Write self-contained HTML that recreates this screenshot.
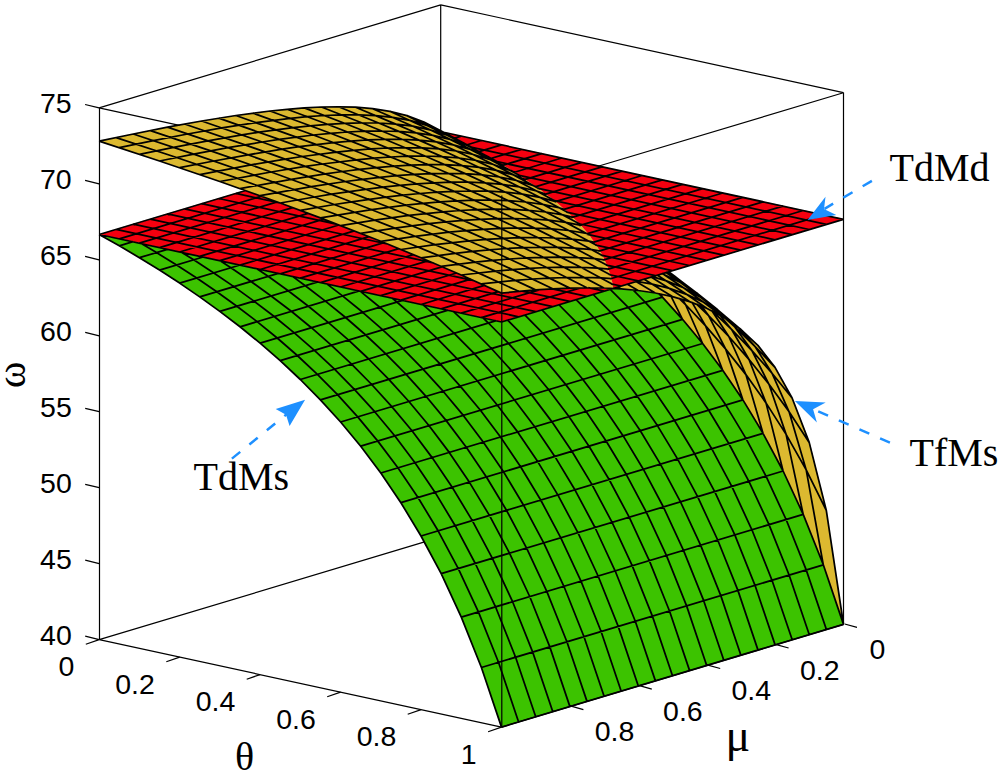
<!DOCTYPE html>
<html><head><meta charset="utf-8"><style>
html,body{margin:0;padding:0;background:#fff;}
svg{display:block;}
.t{font-family:"Liberation Sans",sans-serif;font-size:28.5px;fill:#000;}
.s{font-family:"Liberation Serif",serif;fill:#000;}
</style></head><body>
<svg width="1002" height="776" viewBox="0 0 1002 776">
<rect width="1002" height="776" fill="#fff"/>
<path d="M99.5,234.5 103.8,235.2 105.5,235.8 106.8,235.8 107.2,236.2 111.5,236.8 116.2,238.2 119.2,238.5 119.5,238.8 125.2,239.8 126.8,240.5 129.8,240.8 134.5,242.2 137.5,242.5 142.2,243.8 145.2,244.2 149.8,245.5 152.8,245.8 157.5,247.2 160.5,247.5 165.2,248.8 168.2,249.2 172.8,250.5 175.8,250.8 180.5,252.2 183.5,252.5 188.2,253.8 191.2,254.2 195.8,255.5 198.8,255.8 203.5,257.2 206.5,257.5 211.2,258.8 214.2,259.2 218.8,260.5 221.8,260.8 226.5,262.2 229.5,262.5 234.2,263.8 237.2,264.2 241.8,265.5 244.8,265.8 249.5,267.2 252.5,267.5 257.2,268.8 260.2,269.2 264.8,270.5 267.8,270.8 272.5,272.2 275.5,272.5 280.2,273.8 283.2,274.2 287.8,275.5 290.8,275.8 295.5,277.2 298.5,277.5 303.2,278.8 306.2,279.2 310.8,280.5 313.8,280.8 315.5,281.5 316.8,281.5 317.2,281.8 321.5,282.5 326.2,283.8 329.2,284.2 329.5,284.5 335.2,285.5 336.8,286.2 339.8,286.5 344.5,287.8 347.5,288.2 352.2,289.5 355.2,289.8 359.8,291.2 362.8,291.5 367.5,292.8 370.5,293.2 375.2,294.5 378.2,294.8 382.8,296.2 385.8,296.5 390.5,297.8 393.5,298.2 398.2,299.5 401.2,299.8 405.8,301.2 408.8,301.5 413.5,302.8 416.5,303.2 421.2,304.5 424.2,304.8 428.8,306.2 431.8,306.5 436.5,307.8 439.5,308.2 444.2,309.5 447.2,309.8 451.8,311.2 454.8,311.5 459.5,312.8 462.5,313.2 467.2,314.5 470.2,314.8 474.8,316.2 477.8,316.5 479.5,317.2 480.8,317.2 482.5,317.8 485.5,318.2 487.2,318.8 488.5,318.8 490.2,319.5 491.5,319.5 491.8,319.8 493.2,319.8 494.8,320.5 496.2,320.5 497.8,321.2 501.8,321.8 504.2,320.8 505.2,320.8 507.5,319.8 508.5,319.8 510.8,318.8 511.8,318.8 514.2,317.8 515.2,317.8 517.5,316.8 518.5,316.8 520.8,315.8 521.8,315.8 524.2,314.8 525.2,314.8 527.5,313.8 528.5,313.8 530.8,312.8 531.8,312.8 534.2,311.8 535.2,311.8 537.5,310.8 538.5,310.8 540.8,309.8 541.8,309.8 544.2,308.8 545.2,308.8 547.5,307.8 548.5,307.8 550.8,306.8 555.2,305.8 558.5,304.5 559.5,304.5 561.8,303.5 562.8,303.5 565.2,302.5 566.2,302.5 568.5,301.5 569.5,301.5 571.8,300.5 572.8,300.5 575.2,299.5 576.2,299.5 578.5,298.5 579.5,298.5 581.8,297.5 582.8,297.5 585.2,296.5 586.2,296.5 588.5,295.5 589.5,295.5 591.8,294.5 592.8,294.5 595.2,293.5 596.2,293.5 598.5,292.5 599.5,292.5 601.8,291.5 602.8,291.5 605.2,290.5 606.2,290.5 608.5,289.5 609.5,289.5 611.8,288.5 612.8,288.5 615.2,287.5 616.2,287.5 618.5,286.5 619.5,286.5 621.8,285.5 622.8,285.5 625.2,284.5 626.2,284.5 628.5,283.5 629.5,283.5 631.8,282.5 632.8,282.5 635.2,281.5 639.5,280.5 642.8,279.2 643.8,279.2 646.2,278.2 647.2,278.2 649.5,277.2 650.5,277.2 652.8,276.2 653.8,276.2 656.2,275.2 657.2,275.2 659.5,274.2 660.5,274.2 662.8,273.2 663.8,273.2 666.2,272.2 667.2,272.2 669.5,271.2 670.5,271.2 672.8,270.2 673.8,270.2 676.2,269.2 677.2,269.2 679.5,268.2 680.5,268.2 682.8,267.2 683.8,267.2 686.2,266.2 687.2,266.2 689.5,265.2 690.5,265.2 692.8,264.2 693.8,264.2 696.2,263.2 697.2,263.2 699.5,262.2 700.5,262.2 702.8,261.2 703.8,261.2 706.2,260.2 707.2,260.2 709.5,259.2 710.5,259.2 712.8,258.2 713.8,258.2 716.2,257.2 717.2,257.2 719.5,256.2 720.5,256.2 722.8,255.2 727.2,254.2 730.5,252.8 731.5,252.8 733.8,251.8 734.8,251.8 737.2,250.8 738.2,250.8 740.5,249.8 741.5,249.8 743.8,248.8 744.8,248.8 747.2,247.8 748.2,247.8 750.5,246.8 751.5,246.8 753.8,245.8 754.8,245.8 757.2,244.8 758.2,244.8 760.5,243.8 761.5,243.8 763.8,242.8 764.8,242.8 767.2,241.8 768.2,241.8 770.5,240.8 771.5,240.8 773.8,239.8 774.8,239.8 777.2,238.8 778.2,238.8 780.5,237.8 781.5,237.8 783.8,236.8 784.8,236.8 787.2,235.8 788.2,235.8 790.5,234.8 791.5,234.8 793.8,233.8 794.8,233.8 797.2,232.8 798.2,232.8 800.5,231.8 801.5,231.8 803.8,230.8 804.8,230.8 807.2,229.8 808.2,229.8 810.5,228.8 811.5,228.8 813.8,227.8 814.8,227.8 818.2,226.5 819.2,226.5 821.5,225.5 822.5,225.5 824.8,224.5 825.8,224.5 828.2,223.5 829.2,223.5 831.5,222.5 832.5,222.5 834.8,221.5 835.8,221.5 842.8,219.2 841.5,219.2 836.8,217.8 833.8,217.5 829.2,216.2 826.2,215.8 821.5,214.5 818.5,214.2 813.8,212.8 810.8,212.5 806.2,211.2 803.2,210.8 798.5,209.5 795.5,209.2 790.8,207.8 787.8,207.5 783.2,206.2 780.2,205.8 775.5,204.5 772.5,204.2 767.8,202.8 764.8,202.5 763.2,201.8 761.8,201.8 761.5,201.5 757.2,200.8 752.5,199.5 749.5,199.2 744.8,197.8 741.8,197.5 737.2,196.2 734.2,195.8 729.5,194.5 726.5,194.2 726.2,193.8 720.5,192.8 718.8,192.2 715.8,191.8 711.2,190.5 708.2,190.2 703.5,188.8 700.5,188.5 695.8,187.2 692.8,186.8 688.2,185.5 685.2,185.2 680.5,183.8 677.5,183.5 672.8,182.2 669.8,181.8 665.2,180.5 662.2,180.2 657.5,178.8 654.5,178.5 649.8,177.2 646.8,176.8 642.2,175.5 639.2,175.2 634.5,173.8 631.5,173.5 626.8,172.2 623.8,171.8 619.2,170.5 616.2,170.2 611.5,168.8 608.5,168.5 603.8,167.2 600.8,166.8 596.2,165.5 593.2,165.2 588.5,163.8 585.5,163.5 580.8,162.2 577.8,161.8 573.2,160.5 570.2,160.2 565.5,158.8 562.5,158.5 557.8,157.2 554.8,156.8 550.2,155.5 547.2,155.2 542.5,153.8 539.5,153.5 534.8,152.2 531.8,151.8 527.2,150.5 524.2,150.2 522.5,149.5 516.5,148.5 516.2,148.2 510.5,147.2 508.8,146.5 505.8,146.2 501.2,144.8 498.2,144.5 493.5,143.2 490.5,142.8 485.8,141.5 482.8,141.2 478.2,139.8 475.2,139.5 470.5,138.2 467.5,137.8 462.8,136.5 459.8,136.2 458.2,135.5 456.8,135.5 455.2,134.8 453.8,134.8 453.5,134.5 452.2,134.5 450.5,133.8 444.8,132.8 462.8,142.2 463.5,142.8 471.8,147.2 478.8,151.5 497.5,161.5 503.8,165.8 505.5,166.5 514.2,172.2 518.5,174.5 524.8,179.2 539.8,189.2 544.5,193.2 554.2,200.2 562.2,207.5 567.5,211.8 571.5,216.2 580.2,224.5 589.5,235.5 597.8,247.5 598.5,249.2 602.2,254.8 607.8,267.2 609.2,271.8 610.5,274.8 610.5,275.8 611.5,278.8 611.5,280.2 612.5,283.2 612.8,286.8 613.2,287.2 613.2,288.2 612.8,288.5 607.5,288.5 607.2,288.2 591.5,288.2 591.2,287.8 559.5,288.5 559.2,288.8 552.2,288.8 551.8,289.2 547.2,289.2 546.8,289.5 536.8,289.8 536.5,290.2 532.8,290.2 532.5,290.5 520.8,291.2 520.5,291.5 517.2,291.5 516.8,291.8 513.8,291.8 513.5,292.2 510.5,292.2 510.2,292.5 507.5,292.5 507.2,292.8 501.2,293.2 489.2,287.5 488.5,287.5 484.8,285.5 484.2,285.5 481.2,283.8 480.5,283.8 475.2,281.2 472.2,280.2 469.8,278.8 469.2,278.8 460.8,274.8 457.8,273.8 455.5,272.5 454.8,272.5 453.2,271.5 452.5,271.5 450.8,270.5 450.2,270.5 448.5,269.5 445.5,268.5 443.2,267.2 442.5,267.2 438.5,265.2 437.8,265.2 432.2,262.5 429.8,261.8 419.5,257.2 417.2,256.5 415.5,255.5 411.5,254.2 409.8,253.2 405.8,251.8 404.2,250.8 400.2,249.5 398.5,248.5 397.8,248.5 396.8,247.8 396.2,247.8 395.2,247.2 394.5,247.2 393.5,246.5 392.8,246.5 391.8,245.8 382.8,242.5 381.2,241.5 377.8,240.5 363.5,234.5 361.8,234.2 360.8,233.5 355.8,231.8 351.5,229.8 349.8,229.5 345.5,227.5 343.8,227.2 341.2,225.8 339.5,225.5 336.8,224.2 335.2,223.8 329.8,221.5 325.5,220.2 322.8,218.8 321.2,218.5 320.2,217.8 318.5,217.5 317.5,216.8 315.8,216.5 309.5,213.8 306.8,213.2 305.8,212.5 304.2,212.2 297.8,209.5 295.2,208.8 294.2,208.2 288.8,206.5 285.2,204.8 282.5,204.2 281.5,203.5 278.8,202.8 277.8,202.2 270.5,199.8 269.5,199.2 266.8,198.5 265.8,197.8 253.8,193.8 252.8,193.2 248.2,191.8 246.2,190.8 244.5,190.8 242.2,191.8 241.2,191.8 238.8,192.8 237.8,192.8 235.5,193.8 234.5,193.8 232.2,194.8 231.2,194.8 228.8,195.8 227.8,195.8 225.5,196.8 224.5,196.8 222.2,197.8 221.2,197.8 218.8,198.8 217.8,198.8 215.5,199.8 214.5,199.8 212.2,200.8 211.2,200.8 208.8,201.8 204.5,202.8 201.2,204.2 200.2,204.2 197.8,205.2 196.8,205.2 194.5,206.2 193.5,206.2 191.2,207.2 190.2,207.2 187.8,208.2 186.8,208.2 184.5,209.2 183.5,209.2 181.2,210.2 180.2,210.2 177.8,211.2 176.8,211.2 174.5,212.2 173.5,212.2 171.2,213.2 170.2,213.2 167.8,214.2 166.8,214.2 164.5,215.2 163.5,215.2 161.2,216.2 160.2,216.2 157.8,217.2 156.8,217.2 154.5,218.2 153.5,218.2 151.2,219.2 150.2,219.2 147.8,220.2 146.8,220.2 144.5,221.2 143.5,221.2 141.2,222.2 140.2,222.2 137.8,223.2 136.8,223.2 134.5,224.2 133.5,224.2 131.2,225.2 130.2,225.2 127.8,226.2 126.8,226.2 124.5,227.2 123.5,227.2 121.2,228.2 120.2,228.2 113.5,230.5 112.5,230.5 110.2,231.5 109.2,231.5 106.8,232.5 105.8,232.5 103.5,233.5 102.5,233.5Z" fill="#f5000f" stroke="#f5000f" stroke-width="0.6"/><path d="M99.8,234.8 112.2,241.5 125.5,249.5 127.2,250.2 132.8,253.8 134.5,254.5 145.5,261.2 147.2,262.5 149.8,263.8 151.5,265.2 154.2,266.5 155.8,267.8 158.5,269.2 173.5,279.2 174.5,279.5 199.2,296.2 206.2,301.5 212.2,305.5 242.5,328.5 244.2,330.2 260.5,343.2 270.8,352.5 273.5,354.5 298.2,377.2 322.8,402.2 339.5,420.5 361.2,446.5 373.2,462.8 380.5,472.2 401.5,503.2 422.2,537.5 424.2,541.8 424.8,542.5 426.8,546.8 427.5,547.5 429.5,551.8 430.2,552.5 432.2,556.8 432.8,557.5 434.8,561.8 435.5,562.5 437.8,567.5 438.5,568.2 440.5,572.5 441.2,573.2 441.8,575.2 443.8,578.8 443.8,579.5 448.2,588.2 448.2,588.8 452.5,597.5 452.5,598.2 459.2,611.8 459.2,612.5 461.5,616.8 461.5,617.5 462.2,618.5 462.2,619.2 469.5,636.8 469.8,638.5 470.5,639.5 470.5,640.2 471.2,641.2 471.2,641.8 471.8,642.8 471.8,643.5 472.5,644.5 472.5,645.2 473.2,646.2 473.2,646.8 473.8,647.8 473.8,648.5 474.5,649.5 474.5,650.2 481.8,667.8 501.5,726.8 503.5,726.5 505.8,725.5 506.8,725.5 509.2,724.5 510.2,724.5 512.5,723.5 513.5,723.5 515.8,722.5 516.8,722.5 519.2,721.5 520.2,721.5 523.5,720.2 524.5,720.2 526.8,719.2 527.8,719.2 530.2,718.2 531.2,718.2 543.5,714.2 544.5,714.2 546.8,713.2 547.8,713.2 550.2,712.2 551.2,712.2 553.5,711.2 554.5,711.2 556.8,710.2 557.8,710.2 560.2,709.2 561.2,709.2 563.5,708.2 564.5,708.2 566.8,707.2 567.8,707.2 570.2,706.2 571.2,706.2 573.5,705.2 574.5,705.2 576.8,704.2 577.8,704.2 580.2,703.2 581.2,703.2 583.5,702.2 584.5,702.2 586.8,701.2 587.8,701.2 590.2,700.2 591.2,700.2 593.5,699.2 594.5,699.2 596.8,698.2 597.8,698.2 600.2,697.2 601.2,697.2 603.5,696.2 604.5,696.2 606.8,695.2 607.8,695.2 611.2,693.8 612.2,693.8 614.5,692.8 615.5,692.8 617.8,691.8 618.8,691.8 621.2,690.8 622.2,690.8 624.5,689.8 625.5,689.8 627.8,688.8 628.8,688.8 631.2,687.8 632.2,687.8 634.5,686.8 635.5,686.8 637.8,685.8 638.8,685.8 641.2,684.8 642.2,684.8 644.5,683.8 645.5,683.8 647.8,682.8 648.8,682.8 651.2,681.8 652.2,681.8 664.5,677.8 665.5,677.8 667.8,676.8 668.8,676.8 671.2,675.8 672.2,675.8 674.5,674.8 675.5,674.8 677.8,673.8 678.8,673.8 681.2,672.8 682.2,672.8 684.5,671.8 685.5,671.8 687.8,670.8 688.8,670.8 691.2,669.8 692.2,669.8 695.5,668.5 696.5,668.5 698.8,667.5 699.8,667.5 702.2,666.5 703.2,666.5 705.5,665.5 706.5,665.5 708.8,664.5 709.8,664.5 712.2,663.5 713.2,663.5 715.5,662.5 716.5,662.5 718.8,661.5 719.8,661.5 722.2,660.5 723.2,660.5 725.5,659.5 726.5,659.5 728.8,658.5 729.8,658.5 732.2,657.5 733.2,657.5 735.5,656.5 736.5,656.5 738.8,655.5 739.8,655.5 742.2,654.5 743.2,654.5 745.5,653.5 746.5,653.5 758.8,649.5 759.8,649.5 762.2,648.5 763.2,648.5 765.5,647.5 766.5,647.5 768.8,646.5 769.8,646.5 772.2,645.5 773.2,645.5 775.5,644.5 776.5,644.5 778.8,643.5 779.8,643.5 783.2,642.2 784.2,642.2 786.5,641.2 787.5,641.2 789.8,640.2 790.8,640.2 793.2,639.2 794.2,639.2 796.5,638.2 797.5,638.2 799.8,637.2 800.8,637.2 803.2,636.2 804.2,636.2 806.5,635.2 807.5,635.2 809.8,634.2 810.8,634.2 813.2,633.2 814.2,633.2 816.5,632.2 817.5,632.2 819.8,631.2 820.8,631.2 823.2,630.2 824.2,630.2 826.5,629.2 827.5,629.2 829.8,628.2 830.8,628.2 843.2,624.2 823.2,564.5 821.8,561.8 821.5,560.2 820.8,559.2 820.8,558.5 820.2,557.5 820.2,556.8 819.5,555.8 819.5,555.2 818.8,554.2 818.8,553.5 818.2,552.5 818.2,551.8 817.5,550.8 817.5,550.2 816.8,549.2 816.8,548.5 816.2,547.5 816.2,546.8 815.5,545.8 815.5,545.2 814.8,544.2 814.8,543.5 814.2,542.5 814.2,541.8 813.5,540.8 813.5,540.2 812.8,539.2 812.8,538.5 812.2,537.5 812.2,536.8 811.5,535.8 811.5,535.2 810.8,534.2 810.8,533.5 810.2,532.5 810.2,531.8 809.5,530.8 809.5,530.2 808.8,529.2 808.8,528.5 808.2,527.5 808.2,526.8 807.5,525.8 807.5,525.2 806.8,524.2 803.5,515.2 793.8,494.8 793.8,494.2 791.5,489.8 791.5,489.2 789.5,485.5 789.5,484.8 787.2,480.5 787.2,479.8 785.2,476.2 785.2,475.5 762.5,432.5 760.2,429.2 743.2,400.5 722.8,370.5 702.8,343.8 683.2,320.2 664.5,299.5 658.8,293.8 656.5,293.5 656.2,293.2 654.5,293.2 654.2,292.8 650.2,292.5 649.8,292.2 647.8,292.2 647.5,291.8 638.5,290.8 638.2,290.5 631.5,290.2 631.2,289.8 624.5,289.5 624.2,289.2 620.5,289.2 620.2,288.8 614.2,288.8 613.2,288.5 501.2,322.2 500.8,321.8 497.8,321.5 493.2,320.2 490.2,319.8 485.5,318.5 482.5,318.2 477.8,316.8 474.8,316.5 470.2,315.2 467.2,314.8 462.5,313.5 459.5,313.2 454.8,311.8 451.8,311.5 447.2,310.2 444.2,309.8 439.5,308.5 436.5,308.2 431.8,306.8 428.8,306.5 424.2,305.2 421.2,304.8 416.5,303.5 413.5,303.2 408.8,301.8 405.8,301.5 401.2,300.2 398.2,299.8 393.5,298.5 390.5,298.2 385.8,296.8 382.8,296.5 378.2,295.2 375.2,294.8 370.5,293.5 367.5,293.2 362.8,291.8 359.8,291.5 355.2,290.2 352.2,289.8 350.5,289.2 349.2,289.2 348.8,288.8 344.5,288.2 339.8,286.8 336.8,286.5 336.5,286.2 330.8,285.2 329.2,284.5 326.2,284.2 321.5,282.8 318.5,282.5 313.8,281.2 310.8,280.8 306.2,279.5 303.2,279.2 298.5,277.8 295.5,277.5 290.8,276.2 287.8,275.8 283.2,274.5 280.2,274.2 275.5,272.8 272.5,272.5 267.8,271.2 264.8,270.8 260.2,269.5 257.2,269.2 252.5,267.8 249.5,267.5 244.8,266.2 241.8,265.8 237.2,264.5 234.2,264.2 229.5,262.8 226.5,262.5 221.8,261.2 218.8,260.8 214.2,259.5 211.2,259.2 206.5,257.8 203.5,257.5 198.8,256.2 195.8,255.8 191.2,254.5 188.2,254.2 183.5,252.8 180.5,252.5 175.8,251.2 172.8,250.8 168.2,249.5 165.2,249.2 160.5,247.8 157.5,247.5 152.8,246.2 149.8,245.8 145.2,244.5 142.2,244.2 137.5,242.8 134.5,242.5 129.8,241.2 126.8,240.8 125.2,240.2 123.8,240.2 122.2,239.5 120.8,239.5 119.2,238.8 116.2,238.5 114.5,237.8 113.2,237.8 111.5,237.2 110.2,237.2 109.8,236.8 108.5,236.8 106.8,236.2 105.5,236.2 103.8,235.5Z" fill="#3cc300" stroke="#3cc300" stroke-width="0.6"/><path d="M614.2,288.2 614.2,288.5 620.2,288.5 620.5,288.8 624.2,288.8 624.5,289.2 627.8,289.2 628.2,289.5 631.2,289.5 631.5,289.8 638.2,290.2 638.5,290.5 640.5,290.5 640.8,290.8 649.8,291.8 650.2,292.2 654.2,292.5 654.5,292.8 656.2,292.8 656.5,293.2 658.8,293.5 664.8,299.5 667.8,303.2 681.2,317.5 703.2,343.8 726.2,374.8 732.2,384.2 733.2,385.2 739.2,394.5 743.5,400.5 760.5,429.2 762.8,432.5 785.5,475.5 785.5,476.2 787.5,479.8 787.5,480.5 789.8,484.8 789.8,485.5 791.8,489.2 791.8,489.8 794.2,494.2 794.2,494.8 796.2,498.5 796.2,499.2 802.8,512.8 802.8,513.5 803.8,515.2 803.8,515.8 804.5,516.8 804.5,517.5 805.2,518.5 805.2,519.2 805.8,520.2 805.8,520.8 806.5,521.8 806.5,522.5 807.2,523.5 807.2,524.2 807.8,525.2 807.8,525.8 808.5,526.8 808.5,527.5 809.2,528.5 809.2,529.2 809.8,530.2 809.8,530.8 810.5,531.8 810.5,532.5 811.2,533.5 811.2,534.2 811.8,535.2 811.8,535.8 812.5,536.8 812.5,537.5 813.2,538.5 813.2,539.2 813.8,540.2 813.8,540.8 814.5,541.8 814.5,542.5 821.8,560.2 825.5,571.2 826.2,572.2 834.5,597.8 835.2,598.8 843.2,623.5 842.8,620.5 842.5,620.2 842.5,618.2 842.2,617.8 842.2,615.8 841.5,613.5 841.5,611.5 841.2,611.2 841.2,609.2 840.5,606.8 840.2,602.5 839.5,600.2 839.2,595.8 838.5,593.5 838.2,589.2 837.5,586.8 837.2,582.5 836.5,580.2 836.2,575.8 835.5,573.5 835.2,569.2 834.5,566.8 834.2,562.5 833.5,560.2 833.2,555.8 832.5,553.5 832.2,549.2 831.5,546.8 831.2,542.5 830.8,542.2 830.5,538.2 829.8,535.8 829.5,531.5 828.8,529.2 828.5,524.8 827.8,522.5 827.5,518.2 826.8,515.8 826.5,511.5 826.2,511.2 826.2,509.8 825.8,509.5 820.5,487.2 819.8,485.8 819.8,484.8 819.5,484.5 819.5,483.5 819.2,483.2 819.2,482.2 818.8,481.8 818.8,480.8 818.5,480.5 818.5,479.5 818.2,479.2 818.2,478.2 817.8,477.8 817.8,476.8 817.5,476.5 817.5,475.5 817.2,475.2 817.2,474.2 816.8,473.8 816.8,472.8 816.5,472.5 816.5,471.5 816.2,471.2 816.2,470.2 815.8,469.8 815.8,468.8 815.5,468.5 815.5,467.5 815.2,467.2 809.5,443.5 807.2,437.2 806.5,436.2 806.2,434.5 804.8,431.8 804.5,430.2 803.2,427.5 802.8,425.8 801.5,423.2 801.2,421.5 799.8,418.8 799.5,417.2 798.2,414.5 797.8,412.8 795.8,408.5 795.5,406.8 794.2,404.2 793.8,402.5 792.5,399.8 792.2,398.2 791.5,397.5 790.5,395.2 789.8,394.5 788.8,392.2 788.2,391.5 787.2,389.2 783.5,383.2 774.8,367.2 758.2,345.8 739.8,328.5 731.8,322.2 718.2,310.2 704.5,299.5 697.8,293.8 668.5,271.8 657.2,275.5 656.2,275.5 653.8,276.5 652.8,276.5 650.5,277.5 649.5,277.5 647.2,278.5 646.2,278.5 643.8,279.5 642.8,279.5 639.5,280.8 638.5,280.8 636.2,281.8 635.2,281.8 632.8,282.8 631.8,282.8 629.5,283.8 628.5,283.8 626.2,284.8 625.2,284.8 622.8,285.8 621.8,285.8 619.5,286.8 618.5,286.8 616.2,287.8ZM99.5,141.2 115.5,146.5 116.5,146.5 132.8,152.2 133.8,152.2 180.8,167.8 181.8,168.5 196.5,173.2 197.5,173.8 207.2,176.8 208.2,177.5 216.8,180.2 217.8,180.8 223.5,182.5 224.5,183.2 230.2,184.8 231.2,185.5 236.8,187.2 237.8,187.8 242.5,189.2 243.5,189.8 262.2,196.2 263.2,196.8 265.8,197.5 270.5,199.5 274.2,200.5 275.2,201.2 277.8,201.8 278.8,202.5 281.5,203.2 282.5,203.8 285.2,204.5 288.8,206.2 291.5,206.8 295.2,208.5 297.8,209.2 298.8,209.8 300.5,210.2 306.8,212.8 309.5,213.5 310.5,214.2 312.2,214.5 313.2,215.2 322.8,218.5 325.5,219.8 327.2,220.2 328.2,220.8 336.8,223.8 343.8,226.8 345.5,227.2 349.8,229.2 351.5,229.5 355.8,231.5 357.5,231.8 361.8,233.8 363.5,234.2 377.8,240.2 379.5,240.5 382.8,242.2 383.5,242.2 384.5,242.8 385.2,242.8 386.2,243.5 386.8,243.5 387.8,244.2 388.5,244.2 389.5,244.8 398.5,248.2 400.2,249.2 400.8,249.2 405.8,251.5 409.8,252.8 411.5,253.8 415.5,255.2 417.2,256.2 419.5,256.8 421.2,257.8 423.5,258.5 425.2,259.5 425.8,259.5 427.5,260.5 432.2,262.2 433.8,263.2 434.5,263.2 436.2,264.2 438.5,264.8 445.5,268.2 446.2,268.2 447.8,269.2 448.5,269.2 450.2,270.2 450.8,270.2 452.5,271.2 455.5,272.2 457.8,273.5 460.8,274.5 472.2,279.8 475.2,280.8 501.2,292.8 507.2,292.5 507.5,292.2 513.5,291.8 513.8,291.5 516.8,291.5 517.2,291.2 520.5,291.2 520.8,290.8 524.5,290.8 524.8,290.5 536.5,289.8 536.8,289.5 546.8,289.2 547.2,288.8 551.8,288.8 552.2,288.5 559.2,288.5 559.5,288.2 583.2,287.8 583.5,287.5 612.8,288.2 612.5,284.8 612.2,284.5 612.2,283.2 611.2,280.2 611.2,278.8 610.8,278.5 610.2,274.8 608.8,271.8 607.5,267.2 601.8,254.8 595.8,244.8 588.2,234.2 579.8,224.5 573.8,218.8 567.5,212.2 564.8,210.2 554.2,200.5 544.5,193.5 538.5,188.5 524.8,179.5 521.5,176.8 511.5,170.8 508.8,168.8 503.8,166.2 497.5,161.8 478.8,151.8 478.2,151.2 476.5,150.5 468.8,145.8 466.5,144.8 465.8,144.2 463.5,143.2 462.8,142.5 442.8,132.2 442.2,131.5 431.8,126.5 431.2,125.8 423.2,121.8 421.5,121.5 420.5,120.8 418.8,120.5 416.2,119.2 414.5,118.8 413.5,118.2 411.8,117.8 410.8,117.2 406.2,115.5 405.2,115.5 404.8,115.2 403.8,115.2 403.5,114.8 402.5,114.8 402.2,114.5 401.2,114.5 400.8,114.2 399.8,114.2 390.2,111.5 386.8,111.2 386.5,110.8 384.5,110.8 384.2,110.5 380.2,110.2 377.8,109.5 375.8,109.5 373.5,108.8 370.8,108.8 370.5,108.5 366.8,108.5 366.5,108.2 362.8,108.2 362.5,107.8 358.8,107.8 358.5,107.5 352.8,107.5 352.5,107.2 340.8,107.2 340.5,106.8 334.5,106.8 334.2,107.2 319.2,107.2 318.8,107.5 305.8,107.8 305.5,108.2 301.2,108.2 300.8,108.5 297.2,108.5 296.8,108.8 288.8,109.2 288.5,109.5 285.2,109.5 284.8,109.8 281.8,109.8 281.5,110.2 278.8,110.2 278.5,110.5 272.2,110.8 271.8,111.2 269.2,111.2 268.8,111.5 266.5,111.5 266.2,111.8 263.8,111.8 263.5,112.2 261.2,112.2 260.8,112.5 250.5,113.5 250.2,113.8 248.2,113.8 247.8,114.2 245.8,114.2 245.5,114.5 243.5,114.5 243.2,114.8 234.2,115.8 231.8,116.5 229.8,116.5 227.5,117.2 225.5,117.2 223.2,117.8 221.2,117.8 220.8,118.2 219.2,118.2 218.8,118.5 217.2,118.5 216.8,118.8 215.2,118.8 214.8,119.2 213.2,119.2 212.8,119.5 211.2,119.5 210.8,119.8 209.2,119.8 208.8,120.2 207.2,120.2 206.8,120.5 197.2,121.8 195.2,122.5 191.5,122.8 191.2,123.2 187.8,123.5 185.8,124.2 184.2,124.2 182.2,124.8 180.5,124.8 178.5,125.5 176.8,125.5 176.5,125.8 175.2,125.8 173.2,126.5 171.5,126.5 171.2,126.8 169.8,126.8 167.8,127.5 166.2,127.5 165.8,127.8 164.5,127.8 164.2,128.2 162.8,128.2 162.5,128.5 161.2,128.5 160.8,128.8 159.5,128.8 159.2,129.2 157.8,129.2 155.8,129.8 154.2,129.8 153.8,130.2 152.5,130.2 152.2,130.5 150.8,130.5 150.5,130.8 149.2,130.8 148.8,131.2 147.5,131.2 147.2,131.5 145.8,131.5 145.5,131.8 134.2,133.8 132.5,134.5 126.2,135.5 124.5,136.2 116.5,137.5 114.8,138.2 111.8,138.5 110.2,139.2 107.2,139.5 106.8,139.8 102.5,140.5 100.8,141.2Z" fill="#dcb930" stroke="#dcb930" stroke-width="0.6"/>
<path d="M245.6,190.5 99.1,234.5M442.4,132 843.4,219.3M461.2,136.1 453.9,138.3M261.7,196.1 119.3,238.9M469.7,146.8 826.3,224.4M481.3,140.5 466.4,145M277.3,201.8 139.4,243.2M495.4,161.3 495.5,161.3M496,161.4 809.2,229.5M501.4,144.9 478.3,151.8M292.6,207.6 159.5,247.6M518.1,175.1 792.1,234.7M521.5,149.3 490.7,158.5M308,213.4 179.6,252M537.1,188.1 775,239.8M541.7,153.6 502.4,165.4M323.7,219.1 199.7,256.4M553.3,200.4 757.9,244.9M561.8,158 513.7,172.5M338.9,225 219.8,260.7M566.4,212.1 740.8,250.1M581.9,162.4 524.5,179.6M354.3,230.8 240,265.1M577.7,223.5 723.7,255.2M602,166.8 535,186.9M369,236.7 260.1,269.5M586.7,234.3 587,234.3M587.4,234.4 706.6,260.3M622.1,171.1 544.9,194.3M383.9,242.7 280.2,273.8M594.8,244.9 689.5,265.5M642.2,175.5 554.7,201.8M398.9,248.6 300.3,278.2M600.4,254.9 600.5,255M601,255.1 672.4,270.6M662.4,179.9 563.2,209.7M413.3,254.7 320.4,282.6M605.4,264.9 655.3,275.7M682.5,184.3 571.3,217.6M427.8,260.8 340.5,287M235.9,193.4 279.9,203M280.4,203.1 281,203.2M608.8,274.5 638.2,280.9M702.6,188.6 579.3,225.7M442.6,266.7 360.6,291.3M218.8,198.5 337.3,224.3M337.8,224.4 338,224.4M611,283.8 621.1,286M722.7,193 586.7,233.9M456.6,273 380.8,295.7M201.7,203.7 387.3,244M387.6,244.1 388,244.2M588.3,287.7 604,291.2M742.8,197.4 593,242.4M470.8,279.1 400.9,300.1M184.6,208.8 433.3,262.9M552.3,288.8 586.9,296.3M762.9,201.8 598.1,251.3M484.4,285.4 421,304.5M167.5,213.9 473.9,280.6M522.2,291.1 569.8,301.4M783,206.1 603,260.2M498.3,291.7 441.1,308.8M150.4,219.1 552.7,306.6M803.2,210.5 607.4,269.3M607.2,269.4 607.1,269.4M539.3,289.8 461.2,313.2M133.3,224.2 535.7,311.7M823.3,214.9 609.8,279M579.6,288.1 481.3,317.6M116.2,229.3 518.6,316.8M843.4,219.3 501.5,322M99.1,234.5 501.5,322M245.6,190.5 99.1,234.5M658.8,293.6 662.4,297.2 682.5,319.3 702.6,343.5 722.7,370.3 742.9,399.9 763,433.3 783.1,471 803.2,514.4 823.3,564.8 843.5,624.4M133,241.7 119.3,245.8M632.8,289.7 645.3,302.3 665.4,324.4 685.5,348.7 705.6,375.4 725.8,405.1 745.9,438.4 766,476.2 786.1,519.5 806.2,569.9 826.4,629.5M167.4,249.3 139.4,257.7M610,289.1 628.2,307.4 648.3,329.6 668.4,353.8 688.5,380.5 708.7,410.2 728.8,443.5 748.9,481.3 769,524.6 789.1,575 809.3,634.7M203.1,257 159.5,270.1M592.7,294 611.1,312.6 631.2,334.7 651.3,358.9 671.4,385.7 691.6,415.4 711.7,448.7 731.8,486.4 751.9,529.8 772,580.2 792.2,639.8M240.1,265 179.6,283.1M575.9,299.4 594,317.7 614.1,339.8 634.2,364.1 654.3,390.8 674.5,420.5 694.6,453.8 714.7,491.6 734.8,534.9 755,585.3 775.1,644.9M278.3,273.3 199.7,296.9M558.7,304.5 576.9,322.8 597,345 617.1,369.2 637.2,395.9 657.4,425.6 677.5,458.9 697.6,496.7 717.7,540 737.9,590.4 758,650.1M318,281.9 219.8,311.4M541.7,309.7 559.8,328 579.9,350.1 600,374.4 620.2,401.1 640.3,430.8 660.4,464.1 680.5,501.8 700.6,545.2 720.8,595.6 740.9,655.2M359.3,290.9 240,326.8M524.5,314.7 542.7,333.1 562.8,355.3 582.9,379.5 603.1,406.2 623.2,435.9 643.3,469.2 663.4,507 683.5,550.3 703.7,600.7 723.8,660.3M402.6,300.3 260.1,343.1M507.4,319.8 525.6,338.2 545.7,360.4 565.8,384.6 586,411.3 606.1,441 626.2,474.3 646.3,512.1 666.4,555.4 686.6,605.9 706.7,665.5M448.2,310.2 280.2,360.7M482.7,317.7 488.4,323 508.5,343.4 528.6,365.5 548.7,389.8 568.9,416.5 589,446.2 609.1,479.5 629.2,517.2 649.3,560.6 669.5,611 689.6,670.6M496.3,320.6 300.3,379.5M453.3,311.3 471.3,328.1 491.4,348.5 511.5,370.7 531.6,394.9 551.8,421.6 571.9,451.3 592,484.6 612.1,522.4 632.2,565.7 652.4,616.1 672.5,675.7M662.4,297.2 320.4,399.9M423.1,304.8 434.1,314.4 454.2,333.3 474.3,353.7 494.4,375.8 514.5,400 534.7,426.7 554.8,456.4 574.9,489.8 595,527.5 615.1,570.8 635.3,621.3 655.4,680.9M682.5,319.3 340.6,422M235.9,193.4 237,194M391.8,297.9 396.9,302 417,319.6 437.1,338.4 457.2,358.8 477.3,380.9 497.4,405.2 517.6,431.9 537.7,461.6 557.8,494.9 577.9,532.7 598.1,576 618.2,626.4 638.3,686M702.6,343.5 360.7,446.2M218.8,198.5 219.6,199M219.9,199.1 220.2,199.3M360.1,291.1 379.8,307.2 399.9,324.7 420,343.6 440.1,363.9 460.2,386.1 480.4,410.3 500.5,437 520.6,466.7 540.7,500 560.8,537.8 581,581.1 601.1,631.5 621.2,691.2M722.7,370.3 380.8,473M201.7,203.7 202.9,204.3M326.8,283.9 342.5,295.9 362.7,312.3 382.8,329.8 402.9,348.7 423,369.1 443.1,391.2 463.3,415.4 483.4,442.2 503.5,471.8 523.6,505.2 543.7,542.9 563.9,586.3 584,636.7 604.1,696.3M742.9,399.9 400.9,502.7M184.6,208.8 185.6,209.3M186,209.6 186.1,209.6M292.5,276.4 305.3,285.7 325.4,301.1 345.6,317.5 365.7,335 385.8,353.8 405.9,374.2 426,396.3 446.2,420.6 466.3,447.3 486.4,477 506.5,510.3 526.6,548.1 546.8,591.4 566.9,641.8 587,701.4M763,433.3 421,536M167.5,213.9 168.8,214.7M256.9,268.7 268.1,276.3 288.2,290.8 308.4,306.2 328.5,322.6 348.6,340.1 368.7,359 388.8,379.3 408.9,401.5 429.1,425.7 449.2,452.4 469.3,482.1 489.4,515.4 509.5,553.2 529.7,596.5 549.8,646.9 569.9,706.6M783.1,471 441.2,573.7M150.4,219.1 151.5,219.7M219.8,260.6 230.9,267.7 251,281.5 271.1,296 291.3,311.3 311.4,327.7 331.5,345.3 351.6,364.1 371.7,384.5 391.8,406.6 412,430.8 432.1,457.6 452.2,487.3 472.3,520.6 492.4,558.3 512.6,601.7 532.7,652.1 552.8,711.7M803.2,514.4 461.3,617.1M133.3,224.2 134.1,224.7M134.4,224.8 134.7,225M181.4,252.2 193.7,259.8 213.8,272.9 233.9,286.6 254,301.1 274.2,316.5 294.3,332.9 314.4,350.4 334.5,369.2 354.6,389.6 374.7,411.7 394.9,436 415,462.7 435.1,492.4 455.2,525.7 475.3,563.5 495.5,606.8 515.6,657.2 535.7,716.8M823.3,564.8 481.4,667.5M116.2,229.3 117.4,230M141.3,243.6 156.5,252.6 176.6,265 196.7,278 216.8,291.7 236.9,306.2 257.1,321.6 277.2,338 297.3,355.5 317.4,374.4 337.5,394.7 357.7,416.9 377.8,441.1 397.9,467.8 418,497.5 438.1,530.8 458.3,568.6 478.4,611.9 498.5,662.3 518.6,722M843.5,624.4 501.5,727.1M99.1,234.5 119.3,245.8 139.4,257.7 159.5,270.1 179.6,283.1 199.7,296.9 219.8,311.4 240,326.8 260.1,343.1 280.2,360.7 300.3,379.5 320.4,399.9 340.6,422 360.7,446.2 380.8,473 400.9,502.7 421,536 441.2,573.7 461.3,617.1 481.4,667.5 501.5,727.1M435.5,128.6 435.4,128.6M435,128.3 434.7,128.2M434.4,128 434,127.8M433.8,127.7 433.3,127.4M433.1,127.3 432.8,127.1M432.5,126.9 431,126.1M430.8,126 424,122.1 406.9,115.6 389.8,111.3 372.7,108.7 355.6,107.2 338.5,106.8 321.4,107 304.3,107.9 287.2,109.3 270.1,111 235.9,115.5 201.7,121 167.5,127.2 133.3,134 99.1,141.2M658.8,293.6 662.4,297.2 682.5,319.3 702.6,343.5 722.7,370.3 742.9,399.9 763,433.3 783.1,471 803.2,514.4 823.3,564.8 843.5,624.4M450.2,136.3 450.1,136.2M449.7,136 449.4,135.8M449.2,135.6 444.1,132.5 427,125.3 409.9,120.4 392.8,117.3 375.7,115.6 358.6,114.8 341.5,114.8 324.4,115.5 307.3,116.7 290.2,118.3 256,122.6 221.8,127.9 187.6,134 153.4,140.6 119.2,147.7M424,122.1 444.1,132.5 472.1,147.6M472.4,147.8 472.7,148M678.9,298.1 685.5,304.5 705.6,325.9 725.7,349.1 745.9,374.6 766,402.9 786.1,434.4 806.2,469.9 826.3,510.4M467.1,145.2 464.2,143.2 447.1,135.2 430,129.8 412.9,126.2 395.8,124.1 378.7,123 361.6,122.8 344.5,123.3 327.4,124.3 310.3,125.8 293.2,127.6 259,132.2 241.9,134.9 207.8,140.8 173.6,147.3 139.4,154.3M406.9,115.6 447.1,135.2 467.2,145.5 498.4,162.3M696.6,304 708.6,315.6 728.8,336.5 748.9,359.3 769,384.3 789.1,411.8 809.2,442.4M479.6,152 467.2,145.5 450.1,139.4 433,135.4 415.9,132.8 398.8,131.4 381.7,131 364.6,131.2 347.5,132 330.5,133.3 313.4,135 279.2,139.4 262.1,142 227.9,147.7 193.7,154.1 159.5,161M389.8,111.3 430,129.8 450.1,139.4 470.3,149.4 490.4,159.7 520.6,176M711.6,310.3 711.7,310.4M711.9,310.7 731.8,329.7 751.9,350.6 772,373.2 792.1,398M491.6,158.7 487.4,156.2 470.3,149.4 453.2,144.8 436.1,141.8 419,140.1 401.9,139.3 384.8,139.3 367.7,139.9 350.6,141.1 333.5,142.6 299.3,146.7 282.2,149.2 248,154.8 213.8,161 179.6,167.7M372.7,108.7 412.9,126.2 453.2,144.8 493.4,164.5 513.5,174.9 539.6,189M668.3,271.5 674.4,276 687.9,286.6M688.1,286.8 689.6,287.9M689.8,288.1 692.2,290M692.4,290.1 693.4,291M693.7,291.2 693.8,291.3M694,291.5 694.7,292M695.4,292.6 695.5,292.6M695.7,292.8 695.9,293M723.5,316.7 723.6,316.8M723.9,317.1 734.8,326.9 754.9,346.3 775,367.4M503.5,165.5 490.4,159.7 473.3,154.5 456.2,151 439.1,148.9 422,147.8 404.9,147.6 387.8,148 370.7,148.9 353.6,150.3 336.5,152.1 302.3,156.5 285.2,159.1 251,164.8 199.7,174.6M355.6,107.2 395.8,124.1 415.9,132.8 456.2,151 496.4,170.4 516.5,180.5 536.6,191 555.6,201.3M668,271.7 677.5,278.4 697.6,293.6 717.7,309.8 737.8,327 757.9,345.4M514.9,172.6 510.5,170.4 493.4,164.5 476.3,160.5 459.2,158 442.1,156.6 425,156 407.9,156.2 390.8,157 373.7,158.2 356.6,159.8 322.4,164 305.3,166.4 271.1,172 219.8,181.5M338.5,106.8 378.7,123 398.8,131.4 439.1,148.9 459.2,158 499.4,177 519.5,187 539.7,197.3 568.8,213M569.3,213.2 569.4,213.3M665.7,272.2 680.5,282.5 700.6,297.2 720.7,312.7 740.8,329.3M525.8,179.7 513.5,174.9 496.4,170.4 479.3,167.4 462.2,165.6 445.1,164.7 428,164.6 410.9,165.2 393.8,166.2 376.7,167.6 359.6,169.4 342.5,171.5 325.4,173.9 291.2,179.3 239.9,188.6M321.4,107 361.6,122.8 401.9,139.3 442.1,156.6 462.2,165.6 502.4,184.4 522.6,194.2 542.7,204.3 562.8,214.9 580.2,224.3M580.7,224.6 580.8,224.6M662.4,273.6 683.5,287.8 703.6,302.2 723.7,317.3M536.4,186.9 533.6,185.7 516.5,180.5 499.4,177 482.3,174.8 465.2,173.6 448.1,173.3 431,173.6 413.9,174.4 396.8,175.7 379.7,177.3 362.6,179.3 345.5,181.5 311.4,186.7 260.1,195.7M304.3,107.9 344.5,123.3 384.8,139.3 425,156 465.2,173.6 505.5,192.2 525.6,202 545.7,212 565.8,222.4 589.8,235.3M657.1,275 666.4,280.9 686.5,294.3 706.6,308.3M546.2,194.3 536.6,191 519.5,187 502.4,184.4 485.3,182.8 468.2,182.1 451.1,182.2 434.1,182.8 417,183.8 399.9,185.3 382.8,187.2 365.7,189.3 331.5,194.2 314.4,197 280.2,203M287.2,109.3 327.4,124.3 367.7,139.9 407.9,156.2 448.1,173.3 488.4,191.2 528.6,210.3 548.7,220.2 568.8,230.5 597,245.6M597.3,245.8 597.6,245.9M651.1,277 669.4,288.4 689.5,301.6M556,201.7 539.7,197.3 522.6,194.2 505.5,192.2 488.4,191.2 471.3,191 454.2,191.4 437.1,192.2 420,193.5 402.9,195.2 385.8,197.2 351.6,201.9 334.5,204.5 300.3,210.4M270.1,111 330.5,133.3 370.7,148.9 410.9,165.2 451.1,182.2 491.4,200.1 531.6,219 571.8,239.1 603.3,256M643.7,279 672.4,296.6M662.4,297.2 660.4,293.7M565.1,209.6 559.8,208 542.7,204.3 525.6,202 508.5,200.6 491.4,200.1 474.3,200.2 457.2,200.8 440.1,201.9 423,203.4 405.9,205.2 371.7,209.7 354.6,212.3 320.4,217.9M253,113.1 313.4,135 353.6,150.3 393.8,166.2 413.9,174.4 454.2,191.4 494.4,209.2 534.6,228.1 574.9,248.2 607.6,265.6M607.8,265.8 608.2,265.9M636,281.6 655.3,293M682.5,319.3 671,296.1M573.1,217.4 562.8,214.9 545.7,212 528.6,210.3 511.5,209.4 494.4,209.2 477.3,209.6 460.2,210.5 443.1,211.8 408.9,215.4 374.7,220.1 340.5,225.6M235.9,115.5 296.3,137.1 336.5,152.1 396.8,175.7 437.1,192.2 477.3,209.6 497.4,218.7 537.7,237.5 577.9,257.6 611.1,275.3M611.7,275.6 611.8,275.7M627,284.1 638.2,290.5M702.6,343.5 685.5,304.5 681.9,299.1M581.2,225.4 565.8,222.4 548.7,220.2 531.6,219 514.5,218.5 497.4,218.7 480.3,219.3 463.2,220.4 446.1,221.9 429,223.7 394.8,228.1 360.6,233.4M218.8,118.2 279.2,139.4 339.5,161.7 399.9,185.3 440.1,201.9 480.3,219.3 500.4,228.4 540.7,247.3 580.9,267.3 613.4,284.7M613.9,284.9 614,285M617.7,287 621.1,288.9M722.7,370.3 705.6,325.9 691.9,302.1M588.1,233.7 568.8,230.5 551.7,228.9 534.6,228.1 517.5,228 500.4,228.4 483.3,229.3 466.2,230.6 449.1,232.2 415,236.3 380.8,241.3M201.7,121 262.1,142 322.4,164 382.8,187.2 423,203.4 463.2,220.4 483.3,229.3 523.6,247.7 563.8,267.2 583.9,277.4 604,288M742.9,399.9 725.7,349.1 708.6,315.6 701.3,305.7M678.2,279.6 678.1,279.5M677.9,279.3 677.7,279.1M677.5,279 677.4,278.9M677.1,278.6 677,278.5M676.8,278.3 674.4,276 668,271.5M594.9,242.3 588.9,241.2 571.8,239.1 554.7,238 537.7,237.5 520.6,237.7 503.5,238.3 486.4,239.4 469.3,240.9 435.1,244.7 400.9,249.5M184.6,124 245,144.8 305.3,166.4 365.7,189.3 405.9,205.2 446.1,221.9 466.2,230.6 506.5,248.5 546.7,267.5 586.9,287.8M763,433.3 745.9,374.6 728.8,336.5 711.9,310.8M694.6,292 694,291.5M693.8,291.3 693.7,291.2M693.4,291 692.4,290.1M692.2,290 689.8,288.1M689.6,287.9 688.1,286.8M687.9,286.6 677.5,278.4 666.7,272.2M600.4,251 592,249.7 574.9,248.2 557.8,247.4 540.7,247.3 523.6,247.7 506.5,248.5 489.4,249.8 472.3,251.4 455.2,253.3 421,257.8M167.5,127.2 227.9,147.7 288.2,169.1 348.6,191.6 388.8,207.3 429,223.7 449.1,232.2 489.4,249.8 529.6,268.4 569.8,288.1M783.1,471 766,402.9 748.9,359.3 731.8,329.7 719.6,314.8M719.3,314.4 719.2,314.3M705.8,300.9 705.7,300.8M705.5,300.7 705.4,300.6M705.1,300.3 705,300.2M704.3,299.6 703,298.5M702.8,298.3 702.7,298.2M702.4,297.9 697.6,293.6 680.5,282.5 663.4,274.2 661.8,273.7M605.5,260 595,258.7 577.9,257.6 561.2,257.2 543.7,257.3 526.6,257.9 509.5,259 492.4,260.4 475.3,262.1 441.1,266.3M150.4,130.6 210.8,150.8 271.1,172 331.5,194.2 371.7,209.7 411.9,225.8 432,234.1 472.3,251.4 512.5,269.6 552.7,288.8M803.2,514.4 786.1,434.4 769,384.3 751.9,350.6 734.8,326.9 727,319.1M722.2,314.3 721.7,313.8M721.5,313.6 721.1,313.1M720.9,313 720.7,312.8M720.5,312.6 720.4,312.5M720.2,312.3 717.7,309.8 700.6,297.2 683.5,287.8 666.4,280.9 652.1,276.7M609.1,269.2 598,268.1 580.9,267.3 563.8,267.2 546.7,267.5 529.6,268.4 512.5,269.6 495.4,271.1 461.2,275M133.3,134 193.7,154.1 254,175 314.4,197 354.6,212.3 394.8,228.1 415,236.3 455.2,253.3 495.4,271.1 535.6,289.9M823.3,564.8 806.2,469.9 789.1,411.8 772,373.2 754.9,346.3 737.8,327 720.7,312.7 703.6,302.2 686.5,294.3 669.4,288.4 652.3,284.1 636.4,281.3M611.9,278.7 601,277.9 583.9,277.4 566.8,277.5 549.7,278.1 532.6,279 515.5,280.4 481.3,283.9M116.2,137.6 176.6,157.5 236.9,178.2 297.3,199.9 337.5,215 397.9,238.7 438.1,255.4 478.3,272.9 518.6,291.3M843.5,624.4 826.3,510.4 809.2,442.4 792.1,398 775,367.4 757.9,345.4 740.8,329.3 723.7,317.3 706.6,308.3 689.5,301.6 672.4,296.6 655.3,293 638.2,290.5 621.1,288.9 604,288 586.9,287.8 569.8,288.1 552.7,288.8 535.6,289.9 501.5,293.1M99.1,141.2 159.5,161 219.8,181.5 280.2,203 320.4,217.9 380.8,241.3 421,257.8 461.2,275 501.5,293.1" fill="none" stroke="#000" stroke-width="1.75" stroke-linejoin="round"/>
<path d="M99.5,639.6V107.9M843.5,624.4V92.6M501.8,727.1V195.4M99.1,107.9L440.7,4.9M440.7,4.9L843.4,92.6M99.2,639.6L501.5,727.1M501.5,727.1L843.5,624.4M99.1,107.9 179.4,125.3M598.1,166.3 843.4,92.7M440.7,131.3V4.9M424.6,541.9 99.2,639.6M842.7,624.2 843.5,624.4" fill="none" stroke="#000" stroke-width="1.2"/>
<path d="M99.2,639.6l-14,-3.4M99.2,563.6l-14,-3.4M99.2,487.7l-14,-3.4M99.2,411.7l-14,-3.4M99.2,335.8l-14,-3.4M99.1,259.8l-14,-3.4M99.1,183.8l-14,-3.4M99.1,107.9l-14,-3.4M99.2,639.6l-13.4,4.6M179.7,657.1l-13.4,4.6M260.1,674.6l-13.4,4.6M340.6,692.1l-13.4,4.6M421.1,709.6l-13.4,4.6M501.5,727.1l-13.4,4.6M844.7,624l12.3,3.4M776.3,644.6l12.3,3.4M707.9,665.1l12.3,3.4M639.5,685.7l12.3,3.4M571.1,706.2l12.3,3.4" fill="none" stroke="#000" stroke-width="1.2"/>
<g class="t"><text x="71.8" y="645.1" text-anchor="end">40</text><text x="71.8" y="569.1" text-anchor="end">45</text><text x="71.8" y="493.2" text-anchor="end">50</text><text x="71.8" y="417.2" text-anchor="end">55</text><text x="71.8" y="341.3" text-anchor="end">60</text><text x="71.7" y="265.3" text-anchor="end">65</text><text x="71.7" y="189.3" text-anchor="end">70</text><text x="71.7" y="113.4" text-anchor="end">75</text><text x="74.4" y="676" text-anchor="end">0</text><text x="154.9" y="693.5" text-anchor="end">0.2</text><text x="235.3" y="711" text-anchor="end">0.4</text><text x="315.8" y="728.5" text-anchor="end">0.6</text><text x="396.3" y="746" text-anchor="end">0.8</text><text x="476.7" y="763.5" text-anchor="end">1</text><text x="869.6" y="659.1">0</text><text x="799.9" y="679.6">0.2</text><text x="731.5" y="700.2">0.4</text><text x="663.1" y="720.7">0.6</text><text x="594.7" y="741.3">0.8</text></g>
<g class="s" font-size="40">
<text x="889.5" y="180.5">TdMd</text>
<text x="193.5" y="490">TdMs</text>
<text x="909.5" y="466">TfMs</text>
</g>
<g class="s" font-size="40">
<text x="235" y="770">&#952;</text>
<text x="725.5" y="751.4" font-size="46">&#956;</text>
<text transform="translate(25,388) rotate(-90)">&#969;</text>
</g>
<g fill="none" stroke="#1e90ff" stroke-width="2.5" stroke-dasharray="10.7 11.8">
<path d="M231.9,458.6L286.6,414.3"/>
<path d="M889.9,442.7L814,409.6"/>
<path d="M871.9,180.8L824.5,208.8"/>
</g>
<g fill="#1e90ff">
<path d="M305.1,399.8L275.7,409.1L286,414.7L289.6,426.1Z"/>
<path d="M794.9,401L825.7,402.6L813.1,409.2L816.9,422.4Z"/>
<path d="M807.6,219.9L825.5,196.7L824,209.1L836.3,215.1Z"/>
</g>
</svg>
</body></html>
